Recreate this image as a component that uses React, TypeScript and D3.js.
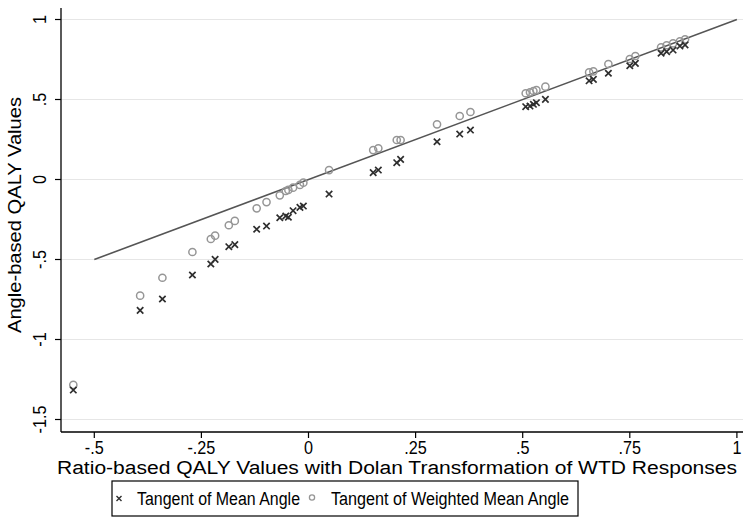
import React from "react";
import * as d3 from "d3";

const xVals = [-0.549, -0.393, -0.341, -0.271, -0.228, -0.218, -0.186, -0.172, -0.121, -0.098, -0.067, -0.053, -0.047, -0.036, -0.02, -0.012, 0.048, 0.151, 0.163, 0.206, 0.215, 0.3, 0.353, 0.378, 0.507, 0.517, 0.525, 0.532, 0.553, 0.655, 0.665, 0.7, 0.75, 0.763, 0.823, 0.836, 0.851, 0.867, 0.879];
const meanAngle = [-1.316, -0.818, -0.747, -0.597, -0.528, -0.499, -0.42, -0.407, -0.311, -0.291, -0.239, -0.228, -0.236, -0.195, -0.174, -0.166, -0.091, 0.043, 0.059, 0.105, 0.126, 0.236, 0.284, 0.309, 0.455, 0.459, 0.47, 0.48, 0.501, 0.617, 0.626, 0.664, 0.711, 0.726, 0.789, 0.799, 0.809, 0.834, 0.841];
const weightedMeanAngle = [-1.284, -0.726, -0.614, -0.453, -0.372, -0.351, -0.286, -0.259, -0.18, -0.141, -0.099, -0.072, -0.065, -0.051, -0.034, -0.02, 0.059, 0.184, 0.195, 0.247, 0.247, 0.345, 0.397, 0.422, 0.539, 0.545, 0.553, 0.559, 0.58, 0.67, 0.676, 0.722, 0.753, 0.772, 0.826, 0.839, 0.851, 0.864, 0.876];
const xTicks = [-0.5, -0.25, 0, 0.25, 0.5, 0.75, 1];
const xTickLabels = ["-.5", "-.25", "0", ".25", ".5", ".75", "1"];
const yTicks = [-1.5, -1, -0.5, 0, 0.5, 1];
const yTickLabels = ["-1.5", "-1", "-.5", "0", ".5", "1"];
const refLine = [-0.5, 1];
const legendLabels = ["Tangent of Mean Angle", "Tangent of Weighted Mean Angle"];
const xTitle = "Ratio-based QALY Values with Dolan Transformation of WTD Responses";
const yTitle = "Angle-based QALY Values";

const W = 743, H = 530;
const FONT = "'Liberation Sans', Arial, sans-serif";
const CROSS = "#2e2e2e";
const CIRC = "#969696";
const FS = 18;

export default function App() {
  const x = d3.scaleLinear().domain([-0.5, 1]).range([94.3, 736.9]);
  const y = d3.scaleLinear().domain([-1.5, 1]).range([419.5, 19.5]);
  const left = 61, bottom = 432, top = 8, right = W;
  const line = d3.line<number>().x((d) => x(d)).y((d) => y(d));
  const cs = 3.2;
  return (
    <svg width={W} height={H} style={{ position: "absolute", left: 0, top: 0, background: "#fff" }} fontFamily={FONT}>
      <rect x={0} y={0} width={W} height={H} fill="#fff" />
      {yTicks.map((t) => (
        <line key={"g" + t} x1={left} x2={right} y1={y(t)} y2={y(t)} stroke="#e6e6e6" strokeWidth={1.2} />
      ))}
      <path d={line(refLine) || ""} stroke="#555" strokeWidth={1.6} fill="none" />
      {xVals.map((v, i) => (
        <circle key={"c" + i} cx={x(v)} cy={y(weightedMeanAngle[i])} r={3.6} fill="none" stroke={CIRC} strokeWidth={1.5} />
      ))}
      {xVals.map((v, i) => {
        const cx = x(v), cy = y(meanAngle[i]);
        return (
          <path key={"x" + i} d={`M${cx - cs},${cy - cs}L${cx + cs},${cy + cs}M${cx - cs},${cy + cs}L${cx + cs},${cy - cs}`} stroke={CROSS} strokeWidth={1.7} />
        );
      })}
      <line x1={left} x2={left} y1={top} y2={bottom} stroke="#000" strokeWidth={1.3} />
      <line x1={left} x2={right} y1={bottom} y2={bottom} stroke="#000" strokeWidth={1.3} />
      {yTicks.map((t, i) => (
        <g key={"yt" + t}>
          <line x1={left - 6} x2={left} y1={y(t)} y2={y(t)} stroke="#000" strokeWidth={1.2} />
          <text transform={`translate(${left - 15},${y(t)}) rotate(-90) scale(0.9,1)`} textAnchor="middle" fontSize={FS} fill="#000">{yTickLabels[i]}</text>
        </g>
      ))}
      {xTicks.map((t, i) => (
        <g key={"xt" + t}>
          <line x1={x(t)} x2={x(t)} y1={bottom} y2={bottom + 6} stroke="#000" strokeWidth={1.2} />
          <text transform={`translate(${x(t)},${bottom + 22}) scale(0.9,1)`} textAnchor="middle" fontSize={FS} fill="#000">{xTickLabels[i]}</text>
        </g>
      ))}
      <text x={397} y={474} textAnchor="middle" fontSize={FS} fill="#000" textLength={680} lengthAdjust="spacingAndGlyphs">{xTitle}</text>
      <text transform={`translate(21,215) rotate(-90)`} textAnchor="middle" fontSize={FS} fill="#000" textLength={236} lengthAdjust="spacingAndGlyphs">{yTitle}</text>
      <rect x={112} y={481} width={466} height={35} fill="#fff" stroke="#000" strokeWidth={1.2} />
      <path d={`M${119 - 2.5},${498.5 - 2.5}L${119 + 2.5},${498.5 + 2.5}M${119 - 2.5},${498.5 + 2.5}L${119 + 2.5},${498.5 - 2.5}`} stroke={CROSS} strokeWidth={1.4} />
      <text x={137} y={505} fontSize={FS} fill="#000" textLength={163} lengthAdjust="spacingAndGlyphs">{legendLabels[0]}</text>
      <circle cx={312} cy={497.5} r={2.6} fill="none" stroke={CIRC} strokeWidth={1.3} />
      <text x={331} y={505} fontSize={FS} fill="#000" textLength={238} lengthAdjust="spacingAndGlyphs">{legendLabels[1]}</text>
    </svg>
  );
}
